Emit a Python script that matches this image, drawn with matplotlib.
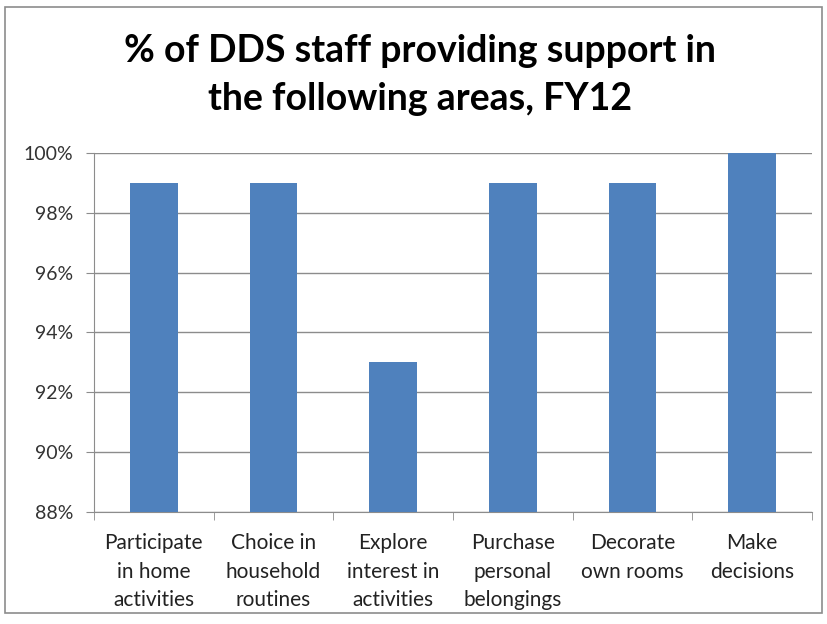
import matplotlib
matplotlib.use('Agg')
import numpy as np
import matplotlib.pyplot as plt
from matplotlib.patches import Rectangle

plt.rcParams['font.family'] = ['Lato', 'DejaVu Sans']

# data
categories = ['Participate\nin home\nactivities', 'Choice in\nhousehold\nroutines',
              'Explore\ninterest in\nactivities', 'Purchase\npersonal\nbelongings',
              'Decorate\nown rooms', 'Make\ndecisions']
values = [99, 99, 93, 99, 99, 100]
yticks = [88, 90, 92, 94, 96, 98, 100]
title = '% of DDS staff providing support in\nthe following areas, FY12'

fig = plt.figure(figsize=(8.27, 6.24), dpi=100)
ax = fig.add_axes([0.1137, 0.1795, 0.8682, 0.5753])

x = np.arange(len(values))
ax.bar(x, values, width=0.4, color='#4F81BD', zorder=3)

ax.set_xlim(-0.5, len(values) - 0.5)
ax.set_ylim(88, 100)
ax.set_yticks(yticks)
ax.set_yticklabels([f'{v}%' for v in yticks], fontsize=14, color='#333333')
ax.yaxis.grid(True, color='#8c8c8c', linewidth=1, zorder=0)

ax.set_xticks(x)
ax.set_xticklabels(categories, fontsize=15, color='#222222', linespacing=1.55)
ax.tick_params(axis='x', length=0, pad=15)
ax.set_xticks(np.arange(-0.5, len(values)), minor=True)
ax.tick_params(axis='x', which='minor', length=6, color='#8c8c8c', direction='out')
ax.tick_params(axis='y', length=6, color='#8c8c8c', pad=9)

for s in ['top', 'right']:
    ax.spines[s].set_visible(False)
for s in ['left', 'bottom']:
    ax.spines[s].set_color('#8c8c8c')

fig.text(0.508, 0.88, title, ha='center', va='center', fontsize=27,
         fontweight='bold', linespacing=1.5)

fig.patches.append(Rectangle((5 / 827, 1 - 613 / 624), 817 / 827, 606 / 624,
                             transform=fig.transFigure, fill=False,
                             edgecolor='#8c8c8c', linewidth=1.2))

fig.savefig('out.png', dpi=100)
